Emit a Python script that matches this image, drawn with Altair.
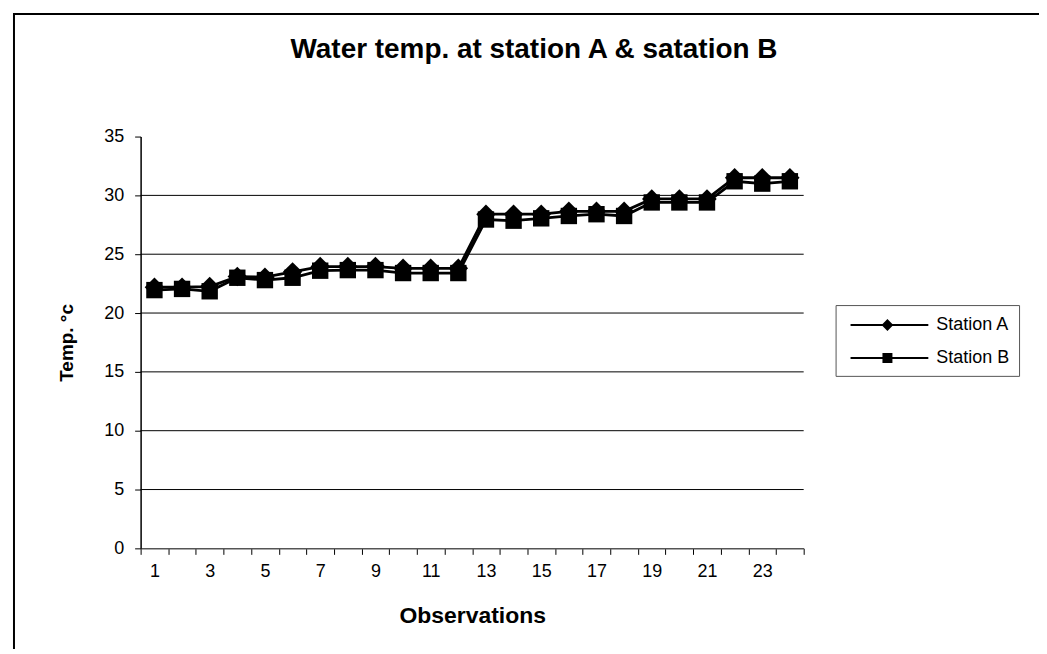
import altair as alt
import pandas as pd

# ---- data ----
OBS = list(range(1, 25))
STATION_A = [22.2, 22.2, 22.25, 23.1, 23.05, 23.5, 23.95, 23.95, 23.95, 23.8, 23.8, 23.8,
             28.4, 28.4, 28.4, 28.65, 28.65, 28.65, 29.7, 29.7, 29.7, 31.5, 31.5, 31.5]
STATION_B = [21.95, 22.05, 21.85, 23.0, 22.8, 23.0, 23.6, 23.65, 23.65, 23.4, 23.4, 23.4,
             27.95, 27.85, 28.05, 28.25, 28.4, 28.25, 29.4, 29.4, 29.4, 31.2, 31.0, 31.2]
SERIES = ["Station A", "Station B"]
Y_TICKS = [0, 5, 10, 15, 20, 25, 30, 35]
GRID_LINES = [5, 10, 15, 20, 25, 30]
X_TICK_EDGES = [i + 0.5 for i in range(0, 25)]

rows = []
for o, a, b in zip(OBS, STATION_A, STATION_B):
    rows.append({"obs": o, "temp": a, "series": SERIES[0]})
    rows.append({"obs": o, "temp": b, "series": SERIES[1]})
df = pd.DataFrame(rows)
grid_df = pd.DataFrame({"temp": GRID_LINES})
legend_df = pd.DataFrame({"series": SERIES, "obs": [OBS[0]] * 2, "temp": [STATION_A[0], STATION_B[0]]})

FONT = "Liberation Sans"
W, H = 665, 413
STEP = W / len(OBS)

xscale = alt.Scale(domain=[0.5, 24.5], nice=False, zero=False)
yscale = alt.Scale(domain=[0, 35], nice=False)

x_enc = alt.X(
    "obs:Q", scale=xscale, title="Observations",
    axis=alt.Axis(
        values=X_TICK_EDGES,
        labelExpr="(datum.value + 0.5) <= 23 && (datum.value + 0.5) % 2 == 1 ? '' + (datum.value + 0.5) : ''",
        labelOffset=STEP / 2, labelOverlap=False, labelFlush=False, labelBound=False,
        tickSize=6, tickColor="#000", domainColor="#555", domainWidth=1.5,
        labelFont=FONT, labelFontSize=18, labelColor="#000", labelPadding=8,
        titleFont=FONT, titleFontSize=23, titleFontWeight="bold", titleColor="#000",
        titlePadding=24, grid=False,
    ),
)
y_enc = alt.Y(
    "temp:Q", scale=yscale, title="Temp. °c",
    axis=alt.Axis(
        values=Y_TICKS, tickSize=6, tickColor="#000", domainColor="#000", domainWidth=1.5,
        labelFont=FONT, labelFontSize=18, labelColor="#000", labelPadding=11,
        titleFont=FONT, titleFontSize=19, titleFontWeight="bold", titleColor="#000",
        titlePadding=27, grid=False,
    ),
)

frame = alt.Chart(alt.Data(values=[{"k": 1}])).mark_rect(
    filled=False, stroke="#000", strokeWidth=2
).encode(x=alt.value(-127), y=alt.value(-123), x2=alt.value(960), y2=alt.value(620))

grid = alt.Chart(grid_df).mark_rule(color="#000", strokeWidth=1).encode(y=y_enc)

lines = alt.Chart(df).mark_line(color="#000", strokeWidth=2.8).encode(
    x=x_enc, y=y_enc, detail="series:N"
)

pts_a = alt.Chart(df).transform_filter(alt.datum.series == SERIES[0]).mark_point(
    shape="diamond", filled=True, color="#000", size=380, opacity=1
).encode(x=x_enc, y=y_enc)

pts_b = alt.Chart(df).transform_filter(alt.datum.series == SERIES[1]).mark_point(
    shape="square", filled=True, color="#000", size=270, opacity=1
).encode(x=x_enc, y=y_enc)

# legend glyphs: a line with the marker drawn as nested outlines so it reads as solid
LEG_A = ("M-0.5,0H7.3"
         "M3.2,-0.45L3.65,0L3.2,0.45L2.75,0Z"
         "M3.2,-0.25L3.45,0L3.2,0.25L2.95,0Z"
         "M3.15,0H3.25")
LEG_B = ("M-0.5,0H7.3"
         "M2.8,-0.4H3.6V0.4H2.8Z"
         "M3.0,-0.2H3.4V0.2H3.0Z"
         "M3.15,0H3.25")

legend_layer = alt.Chart(legend_df).transform_filter("false").mark_point(
    filled=False, color="#000", strokeWidth=2, opacity=1
).encode(
    x=x_enc, y=y_enc,
    shape=alt.Shape(
        "series:N",
        scale=alt.Scale(domain=SERIES, range=[LEG_A, LEG_B]),
        legend=alt.Legend(
            title=None, orient="none", legendX=697, legendY=169,
            symbolSize=400, symbolFillColor="#000", symbolStrokeColor="#000",
            symbolStrokeWidth=2, symbolOpacity=1,
            labelFont=FONT, labelFontSize=18, labelColor="#000", labelOffset=70,
            padding=9, rowPadding=13, strokeColor="#555", fillColor="#fff",
        ),
    ),
)

chart = alt.layer(frame, grid, lines, pts_a, pts_b, legend_layer).properties(
    width=W, height=H,
    title=alt.TitleParams(
        "Water temp. at station A & satation B", font=FONT, fontSize=28,
        fontWeight="bold", color="#000", anchor="middle", frame="group", dx=62, dy=55,
    ),
    autosize=alt.AutoSizeParams(type="none"),
    padding={"left": 133, "top": 128, "right": 236, "bottom": 100},
).configure(background="#fff").configure_view(stroke=None)

chart.save("out.html", embed_options={"renderer": "svg", "actions": False})
